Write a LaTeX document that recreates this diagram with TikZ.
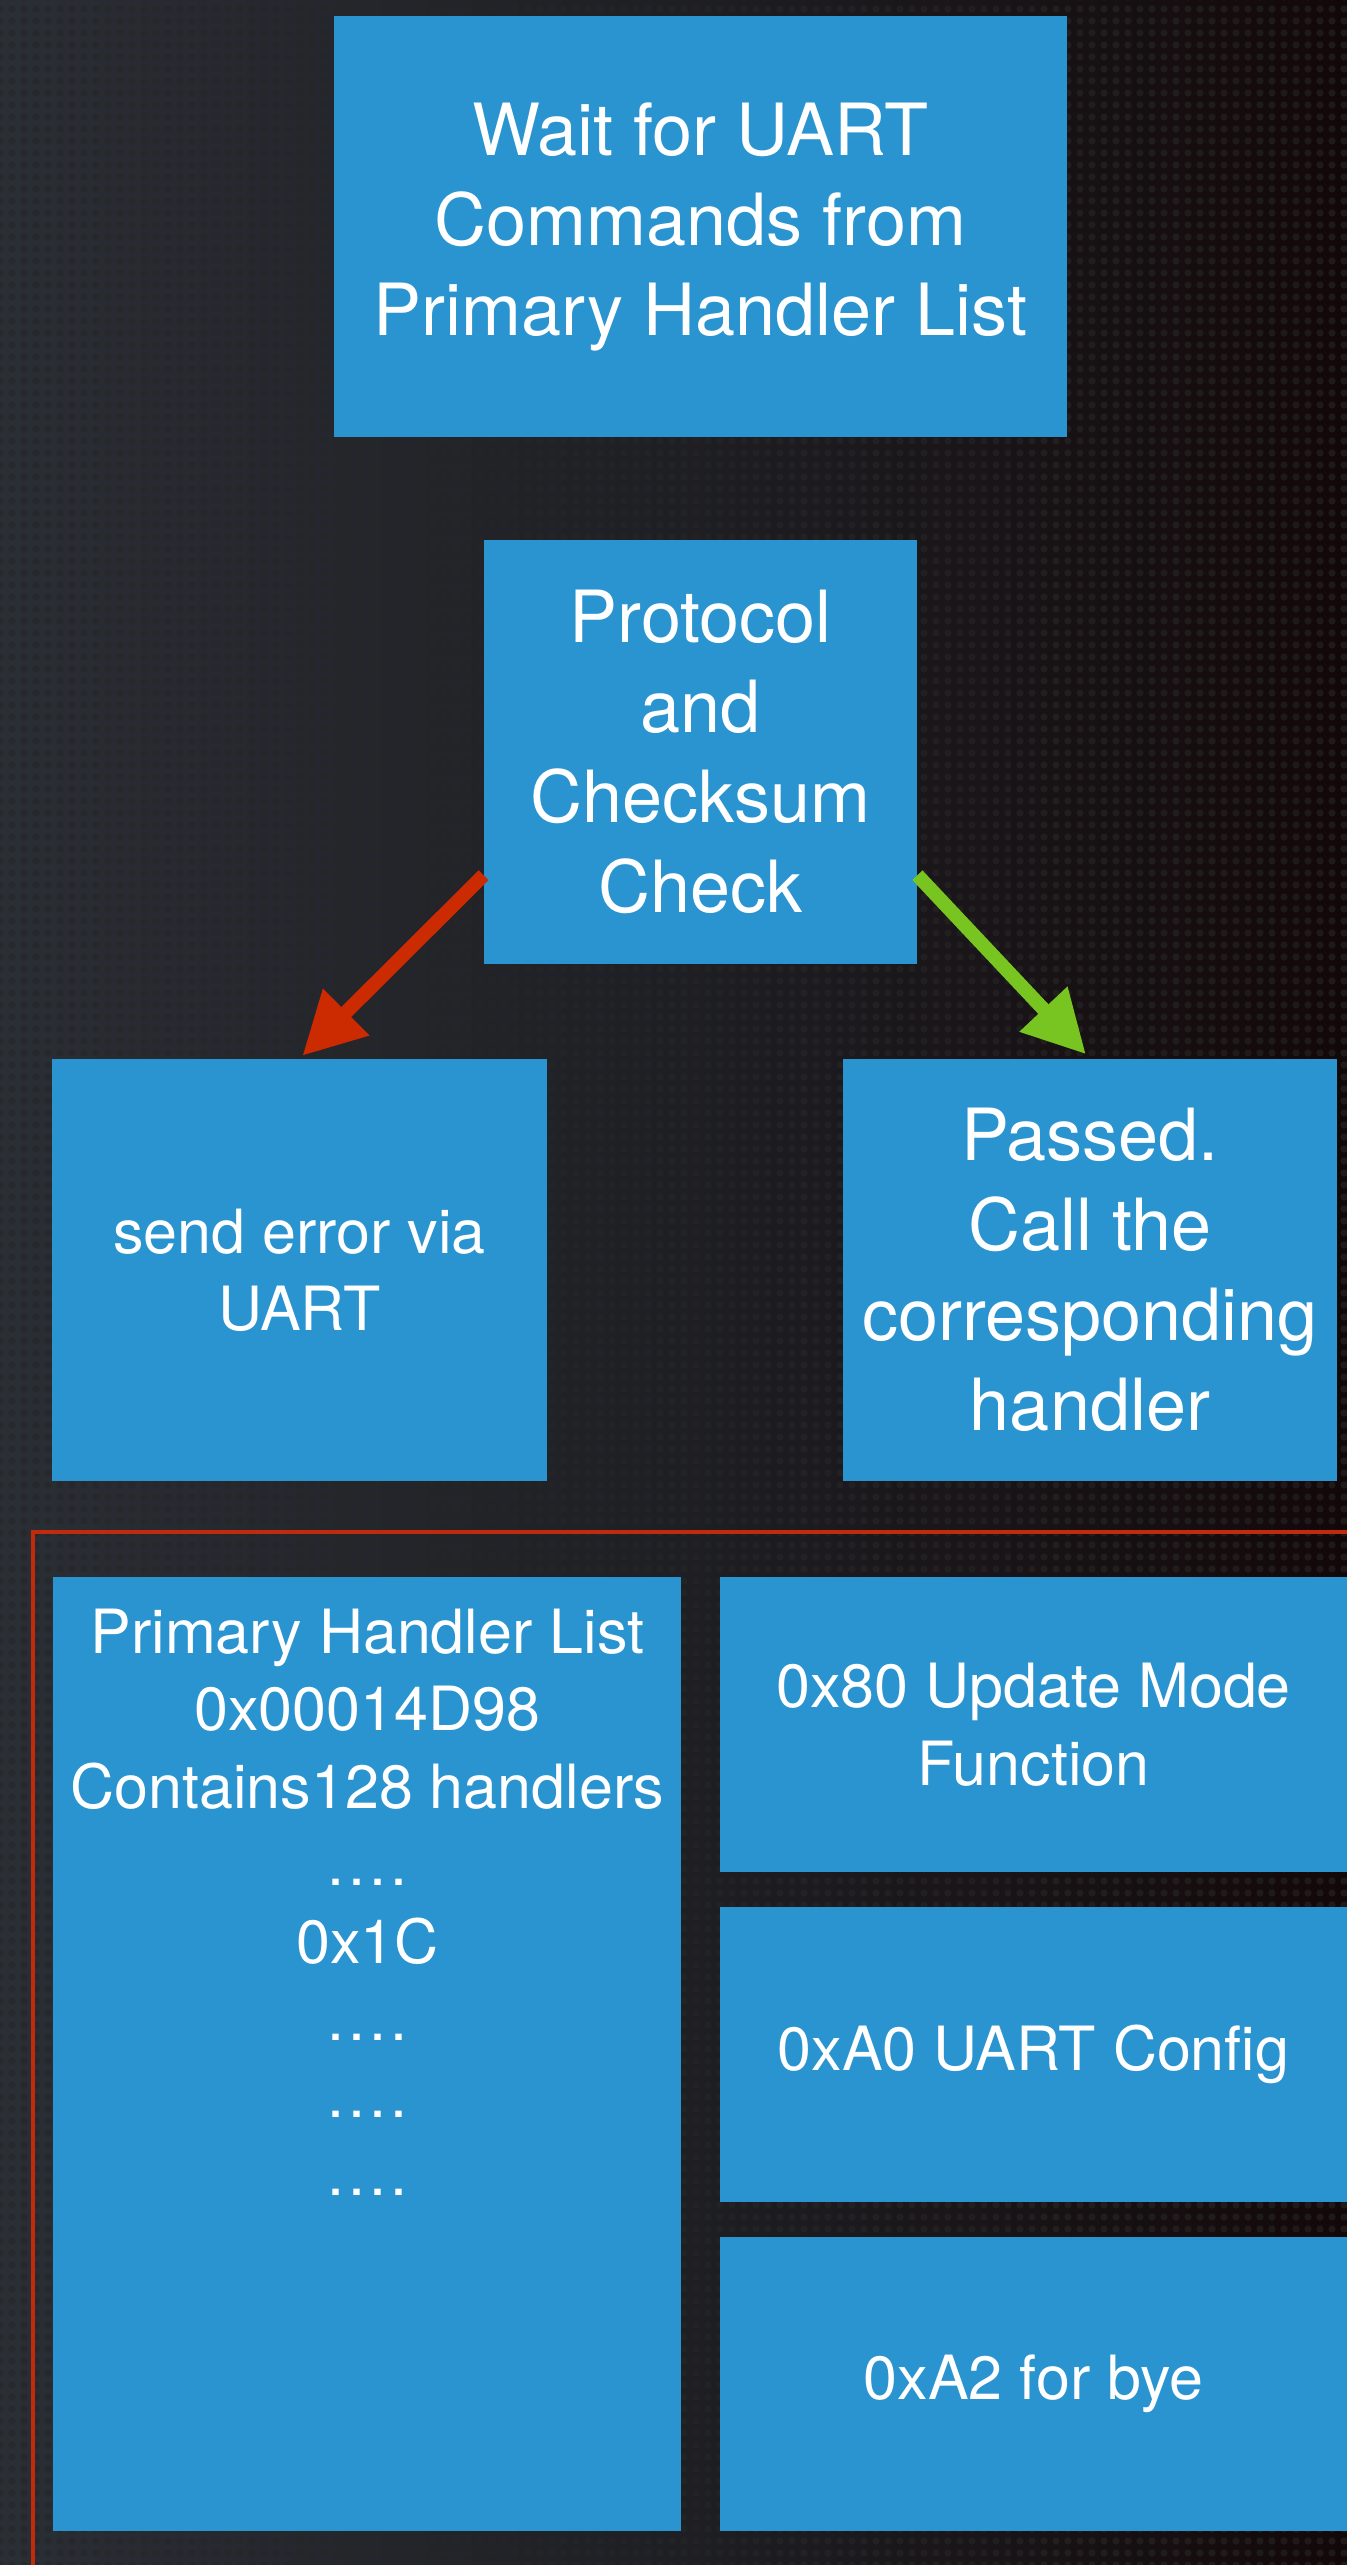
\documentclass[tikz,border=0pt]{standalone}
\usepackage{fontspec}
\setmainfont{TeX Gyre Heros}
\usepackage{xcolor}
\usepackage{tikz}
\usetikzlibrary{calc,arrows.meta,positioning,patterns.meta}
\definecolor{boxc}{HTML}{2994D0}
\definecolor{bgleft}{HTML}{2A2E35}
\definecolor{bgmid}{HTML}{1E1F24}
\definecolor{bgright}{HTML}{130809}
\definecolor{failc}{HTML}{CC2A00}
\definecolor{okc}{HTML}{78C420}
\definecolor{framec}{HTML}{C22A0C}
\newcommand\gapdots{.\kern2pt.\kern2pt.\kern2pt.}
\tikzset{
  blk/.style={fill=boxc,text=white,align=center,inner sep=0pt},
  bigtxt/.style={font=\fontsize{36}{45}\selectfont},
  smalltxt/.style={font=\fontsize{30.5}{38.7}\selectfont},
  failar/.style={-{Triangle[length=31pt,width=31pt]},line width=7pt,failc,shorten >=2pt},
  okar/.style={-{Triangle[length=31pt,width=31pt]},line width=7pt,okc,shorten >=3pt}
}

\begin{document}
\begin{tikzpicture}[x=0.5pt,y=-0.5pt]
\useasboundingbox (0,0) rectangle (1347,2565);
\shade[left color=bgleft,right color=bgright,middle color=bgmid] (0,0) rectangle (1347,2565);
% mesh texture
\fill[pattern={Dots[distance=6pt,radius=1.8pt]},pattern color=black!85,opacity=0.6] (0,0) rectangle (1347,2565);
% frame round the handler table
\draw[framec,line width=2pt] (1360,1532) -| (33,2580);
\node[blk,bigtxt,minimum width=366.5pt,minimum height=210.5pt] (wait) at (700.5,226.5) {Wait for UART\\Commands from\\Primary Handler List};
\node[blk,bigtxt,minimum width=216.5pt,minimum height=212pt] (chk) at (700.5,752) {Protocol\\and\\Checksum\\Check};
\node[blk,smalltxt,minimum width=247.5pt,minimum height=211pt] (senderr) at (299.5,1270) {send error via\\UART};
\node[blk,bigtxt,minimum width=247pt,minimum height=211pt] (passed) at (1090,1270) {Passed.\\Call the\\corresponding\\handler};
% handler table
\node[blk,smalltxt,anchor=north west] (hlist) at (53,1577) {\parbox[t][477pt][t]{314pt}{\centering\rule{0pt}{38pt}Primary Handler List\\0x00014D98\\Contains128 handlers\\\gapdots\\0x1C\\\gapdots\\\gapdots\\\gapdots}};
\node[blk,smalltxt,minimum width=313.5pt,minimum height=147.5pt] (h80) at (1033.5,1724.5) {0x80 Update Mode\\Function};
\node[blk,smalltxt,minimum width=313.5pt,minimum height=147.5pt] (hA0) at (1033.5,2054.5) {0xA0 UART Config};
\node[blk,smalltxt,minimum width=313.5pt,minimum height=147pt] (hA2) at (1033.5,2384) {0xA2 for bye};
% check result arrows
\draw[failar] ($(chk.south west)!0.21!(chk.north west)$) -- (senderr.north);
\draw[okar] ($(chk.south east)!0.21!(chk.north east)$) -- (passed.north);
\end{tikzpicture}
\end{document}
